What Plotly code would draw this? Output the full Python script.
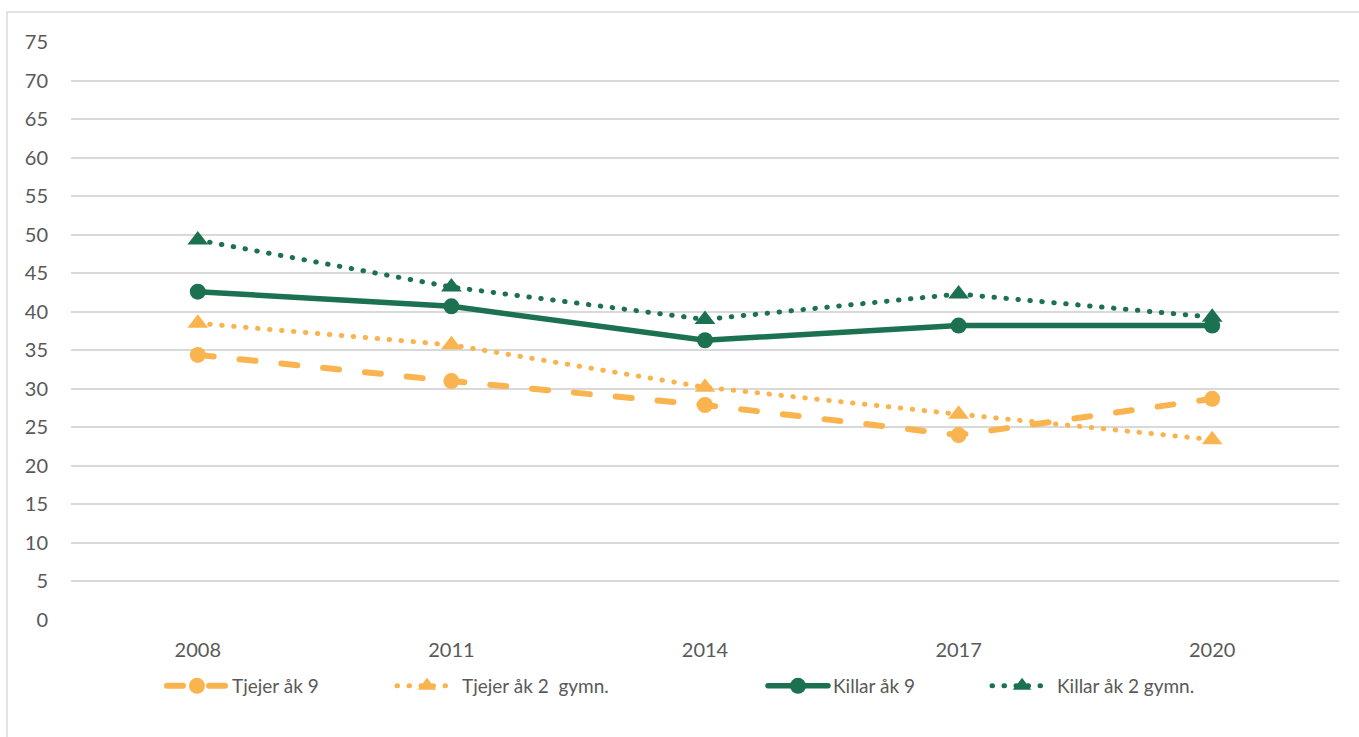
import plotly.graph_objects as go

years = ["2008", "2011", "2014", "2017", "2020"]
tjejer_ak9 = [34.4, 31.0, 27.9, 24.0, 28.7]
tjejer_ak2 = [38.5, 35.7, 30.2, 26.7, 23.4]
killar_ak9 = [42.6, 40.7, 36.3, 38.2, 38.2]
killar_ak2 = [49.3, 43.2, 39.0, 42.3, 39.3]
y_ticks = list(range(0, 80, 5))

ORANGE = "#F9B44F"
GREEN = "#1B7150"
FONT = "Lato"
TXT = "#595959"

W, H = 1359, 737
L, R, T, B = 71, 20, 42, 117
pw, ph = W - L - R, H - T - B

def px_x(p):
    return (p - L) / pw

def px_y(p):
    return (H - B - p) / ph

DOTS = "0.5px,11.5px"
DASHES = "16px,26px"

fig = go.Figure()
fig.add_trace(go.Scatter(x=years, y=tjejer_ak9, name="Tjejer åk 9", mode="lines+markers",
                         line=dict(color=ORANGE, width=6, dash=DASHES),
                         marker=dict(symbol="circle", size=16, color=ORANGE), legend="legend2"))
fig.add_trace(go.Scatter(x=years, y=tjejer_ak2, name="Tjejer åk 2  gymn.", mode="lines+markers",
                         line=dict(color=ORANGE, width=5, dash=DOTS),
                         marker=dict(symbol="triangle-up", size=18, color=ORANGE), legend="legend3"))
fig.add_trace(go.Scatter(x=years, y=killar_ak9, name="Killar åk 9", mode="lines+markers",
                         line=dict(color=GREEN, width=5.5),
                         marker=dict(symbol="circle", size=16, color=GREEN), legend="legend4"))
fig.add_trace(go.Scatter(x=years, y=killar_ak2, name="Killar åk 2 gymn.", mode="lines+markers",
                         line=dict(color=GREEN, width=5, dash=DOTS),
                         marker=dict(symbol="triangle-up", size=18, color=GREEN), legend="legend5"))

leg_common = dict(orientation="h", yanchor="middle", y=px_y(686), xanchor="left",
                  font=dict(family=FONT, size=19, color=TXT), bgcolor="rgba(0,0,0,0)",
                  itemwidth=60)
legend_text_x = [233, 463, 834, 1058]

fig.update_layout(
    width=W, height=H,
    margin=dict(l=L, r=R, t=T, b=B, autoexpand=False),
    paper_bgcolor="white", plot_bgcolor="white",
    font=dict(family=FONT, size=20, color=TXT),
    showlegend=True,
    legend2=dict(x=px_x(legend_text_x[0] - 71), **leg_common),
    legend3=dict(x=px_x(legend_text_x[1] - 71), **leg_common),
    legend4=dict(x=px_x(legend_text_x[2] - 71), **leg_common),
    legend5=dict(x=px_x(legend_text_x[3] - 71), **leg_common),
    xaxis=dict(type="category", range=[-0.5, 4.5], showgrid=False, zeroline=False,
               showline=False, ticks="", tickfont=dict(family=FONT, size=20, color=TXT),
               ticklabelstandoff=16),
    yaxis=dict(range=[0, 75], tickvals=y_ticks, showgrid=True, gridcolor="#D9D9D9",
               gridwidth=1.5, zeroline=False, showline=False, ticks="",
               tickfont=dict(family=FONT, size=20, color=TXT), ticklabelstandoff=22),
    shapes=[dict(type="rect", xref="paper", yref="paper",
                 x0=px_x(7), x1=px_x(1380), y0=px_y(760), y1=px_y(12),
                 line=dict(color="#D9D9D9", width=1.5), fillcolor="rgba(0,0,0,0)", layer="below")],
)

post = (
    "document.body.style.margin='0';document.body.style.overflow='hidden';"
    "var s=document.createElement('style');"
    "s.textContent='path.js-line{stroke-linecap:round;}';"
    "document.head.appendChild(s);"
)
fig.write_html("out.html", post_script=post, config={"displayModeBar": False})
